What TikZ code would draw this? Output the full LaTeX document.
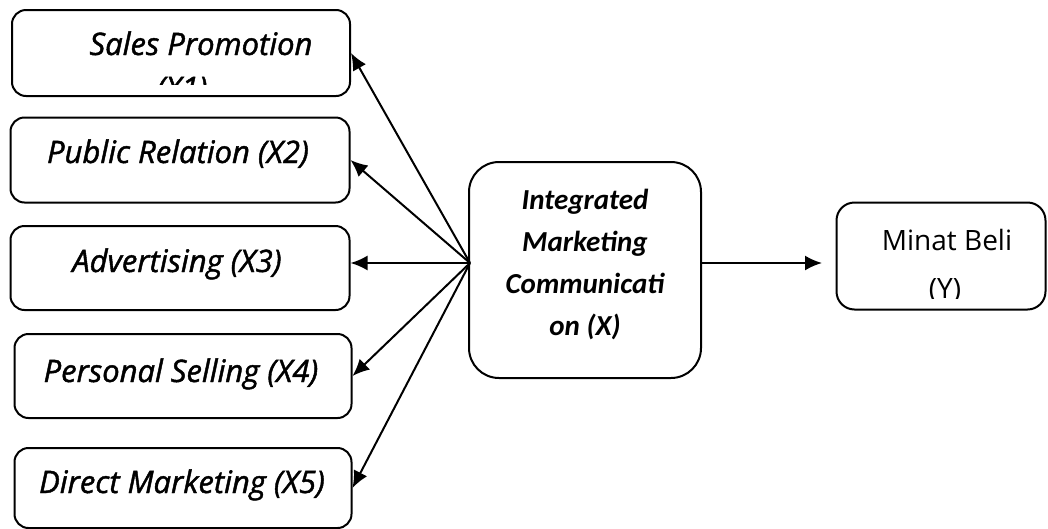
\documentclass[tikz,border=0pt]{standalone}
\usepackage{fontspec}
\setmainfont{Open Sans}
\newfontfamily\semi{Open Sans}[FakeBold=1.4]
\newfontfamily\calib{Carlito}
\usetikzlibrary{arrows.meta}

\begin{document}
\begin{tikzpicture}[x=1pt, y=-1pt, line width=2pt,
    box/.style = {draw, rounded corners=14pt, inner sep=0pt},
    lbl/.style = {font=\fontsize{31}{44}\semi\itshape, anchor=base, inner sep=0pt},
    ylbl/.style = {font=\fontsize{28}{45}\selectfont, anchor=base, inner sep=0pt},
    arr/.style = {-{Latex[length=17pt, width=15pt]}}]
        \useasboundingbox (0,0) rectangle (1048,528);

        % left boxes
        \node[box, minimum width=338pt, minimum height=86pt] (x1) at (181,53) {};
        \node[box, minimum width=339pt, minimum height=85pt] (x2) at (180,160) {};
        \node[box, minimum width=339pt, minimum height=84pt] (x3) at (180,268) {};
        \node[box, minimum width=337pt, minimum height=84pt] (x4) at (183,376) {};
        \node[box, minimum width=337pt, minimum height=80pt] (x5) at (183,488) {};
        \node[lbl] (t1) at (201,55) {Sales Promotion};
        \begin{scope}
            \clip (x1.north west) rectangle ([yshift=13pt]x1.south east);
            \node[lbl] (t1b) at (182,99) {(X1)};
        \end{scope}
        \node[lbl] (t2) at (178,163) {Public Relation (X2)};
        \node[lbl] (t3) at (177,272) {Advertising (X3)};
        \node[lbl] (t4) at (181,382) {Personal Selling (X4)};
        \node[lbl] (t5) at (182,493) {Direct Marketing (X5)};

        % centre and right
        \node[box, minimum width=232pt, minimum height=216pt, rounded corners=30pt] (imc) at (585,270) {};
        \node[font=\fontsize{29}{42}\calib\bfseries\itshape, align=center, inner sep=0pt] (ti) at (585,264)
            {Integrated\\Marketing\\Communicati\\on (X)};
        \node[box, minimum width=209pt, minimum height=107pt, rounded corners=18pt] (y) at (941,256) {};
        \node[ylbl] (ty) at (947,250) {Minat Beli};
        \begin{scope}
            \clip (y.north west) rectangle ([yshift=12pt]y.south east);
            \node[ylbl] (tyb) at (945,298) {(Y)};
        \end{scope}

        \coordinate (hub) at (470,263);
        \coordinate (ein) at (822,263);

        \draw[arr] (hub) -- (x1.east);
        \draw[arr] (hub) -- (x2.east);
        \draw[arr] (hub) -- (x3.east |- hub);
        \draw[arr] (hub) -- (x4.east);
        \draw[arr] (hub) -- (x5.east);
        \draw[arr] (imc.east |- hub) -- (ein);

    \end{tikzpicture}
\end{document}
